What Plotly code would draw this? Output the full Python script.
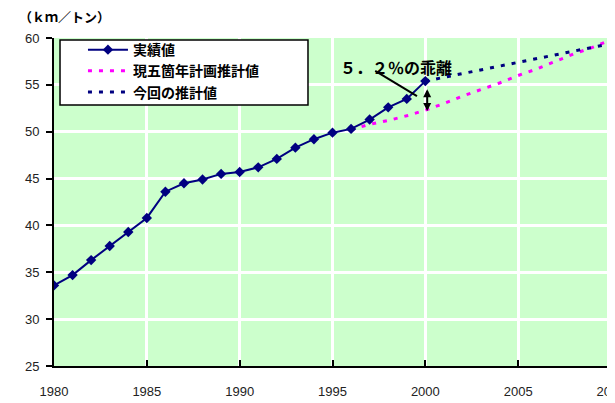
import plotly.graph_objects as go

years_actual = list(range(1980, 2001))
actual = [33.6, 34.7, 36.3, 37.8, 39.3, 40.8, 43.6, 44.5, 44.9, 45.5, 45.7,
          46.2, 47.1, 48.3, 49.2, 49.9, 50.3, 51.3, 52.6, 53.5, 55.4]

years_plan = list(range(1996, 2011))
plan = [50.2, 50.8, 51.2, 51.7, 52.3, 53.0, 53.8, 54.5, 55.2, 56.0,
        56.7, 57.5, 58.3, 59.0, 59.8]

years_new = list(range(2000, 2011))
new_est = [55.4, 55.8, 56.2, 56.6, 57.0, 57.4, 57.8, 58.2, 58.6, 59.0, 59.4]

x_ticks = [1980, 1985, 1990, 1995, 2000, 2005, 2010]
y_ticks = [25, 30, 35, 40, 45, 50, 55, 60]

NAVY = "#000080"
MAGENTA = "#FF00FF"
JP = "Noto Sans CJK JP"
GRID = "#FFFFFF"

fig = go.Figure()
fig.add_trace(go.Scatter(
    x=years_plan, y=plan, name="現五箇年計画推計値", mode="lines",
    line=dict(color=MAGENTA, width=3, dash="4px,7px"), legendrank=2))
fig.add_trace(go.Scatter(
    x=years_new, y=new_est, name="今回の推計値", mode="lines",
    line=dict(color=NAVY, width=3, dash="4px,7px"), legendrank=3))
fig.add_trace(go.Scatter(
    x=years_actual, y=actual, name="実績値", mode="lines+markers",
    line=dict(color=NAVY, width=2),
    marker=dict(symbol="diamond", size=8, color=NAVY), legendrank=1))

# page body has an 8px default margin, so the figure is sized to fill the rest
fig.update_layout(
    template="none",
    width=607, height=395,
    margin=dict(l=46, r=4, t=30, b=37, autoexpand=False),
    paper_bgcolor="white", plot_bgcolor="#CCFFCC",
    font=dict(family="Liberation Sans, Arial", size=13, color="#222"),
    showlegend=True,
    legend=dict(x=0.052, y=1.012, xanchor="left", yanchor="top",
                bgcolor="rgba(0,0,0,0)", borderwidth=0,
                font=dict(family=JP, size=14, color="black", weight="bold"),
                itemwidth=40, tracegroupgap=0),
    xaxis=dict(range=[1980, 2010], tickvals=x_ticks, ticktext=[str(v) for v in x_ticks],
               showgrid=True, gridcolor=GRID, gridwidth=2.5,
               showline=True, linecolor="black", linewidth=2,
               ticks="inside", ticklen=6, tickcolor="black", tickwidth=2,
               zeroline=False, tickfont=dict(size=13), automargin=False,
               ticklabelstandoff=12, ticklabeloverflow="allow"),
    yaxis=dict(range=[25, 60], tickvals=y_ticks, ticktext=[str(v) for v in y_ticks],
               showgrid=True, gridcolor=GRID, gridwidth=2.5,
               showline=True, linecolor="black", linewidth=2,
               ticks="outside", ticklen=6, tickcolor="black", tickwidth=2,
               zeroline=False, tickfont=dict(size=13), automargin=False,
               ticklabelstandoff=4),
)

# legend frame
fig.add_shape(type="rect", xref="paper", yref="paper",
              x0=0.0108, x1=0.456, y0=0.796, y1=0.994, layer="above",
              fillcolor="white", line=dict(color="black", width=1.5))

# unit label
fig.add_annotation(text="<b>（ｋｍ／トン）</b>", xref="paper", yref="paper",
                   x=-0.066, y=1.067, xanchor="left", yanchor="middle",
                   showarrow=False, font=dict(family=JP, size=13, color="black"))

# divergence label
fig.add_annotation(text="<b>５．２％の乖離</b>", x=1998.4, y=56.9, xref="x", yref="y",
                   showarrow=False, font=dict(family=JP, size=16, color="black"))
fig.add_shape(type="line", x0=1997.3, y0=56.5, x1=1999.55, y1=53.8,
              xref="x", yref="y", line=dict(color="black", width=2))
# double arrow showing the gap in 2000
fig.add_annotation(x=2000.1, y=52.2, ax=2000.1, ay=54.7, xref="x", yref="y",
                   axref="x", ayref="y", text="", showarrow=True,
                   arrowhead=2, arrowside="end+start", arrowwidth=2,
                   arrowsize=0.8, arrowcolor="black")

fig.write_html("out.html")
